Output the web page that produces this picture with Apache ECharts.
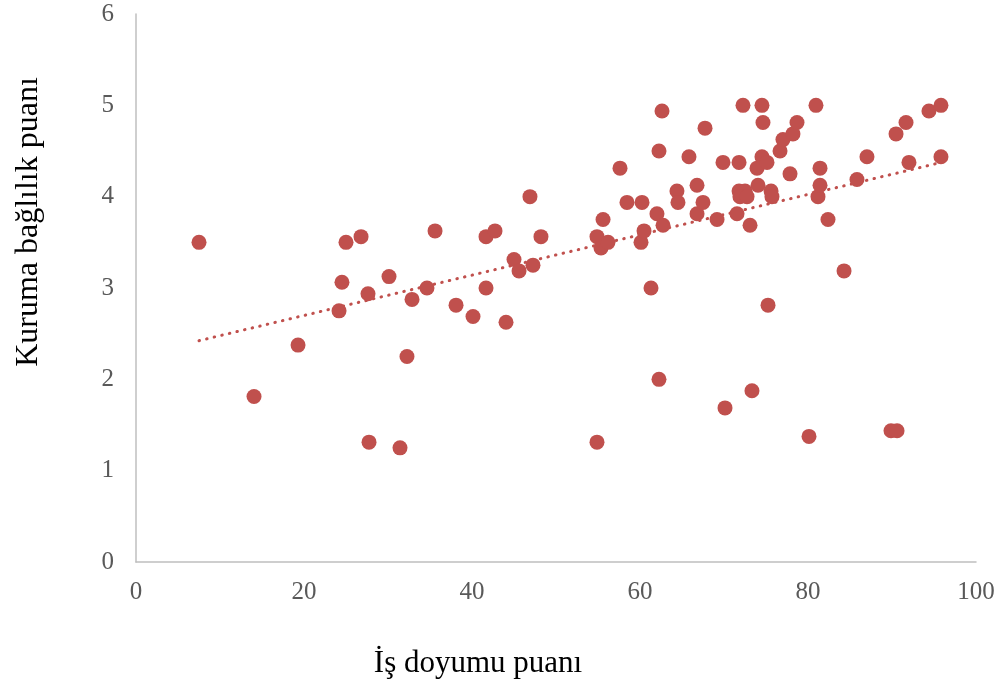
<!DOCTYPE html>
<html>
<head>
<meta charset="utf-8">
<script src="https://cdn.jsdelivr.net/npm/echarts@6/dist/echarts.min.js"></script>
<style>
  html, body { margin: 0; padding: 0; background: #ffffff; }
  #chart { width: 999px; height: 691px; }
</style>
</head>
<body>
<div id="chart"></div>
<script>
// Job satisfaction score (x) vs. organisational commitment score (y)
const jobSatisfaction = [
  7.50, 14.05, 19.29, 24.17, 24.52, 25.00, 26.79, 27.62, 27.74, 30.12,
  31.43, 32.26, 32.86, 34.64, 35.60, 38.10, 40.12, 41.67, 41.67, 42.74,
  44.05, 45.00, 45.60, 46.90, 47.26, 48.21, 54.88, 54.88, 55.36, 55.60,
  56.19, 57.62, 58.45, 60.12, 60.24, 60.48, 61.31, 62.02, 62.26, 62.26,
  62.62, 62.74, 64.40, 64.52, 65.83, 66.79, 66.79, 67.50, 67.74, 69.17,
  69.88, 70.12, 71.55, 71.79, 71.79, 72.50, 71.90, 72.74, 72.26, 73.10,
  73.33, 73.93, 74.05, 74.52, 74.52, 74.64, 75.12, 75.24, 75.60, 75.71,
  76.67, 77.02, 77.86, 78.21, 78.69, 80.12, 80.95, 81.19, 81.43, 81.43,
  82.38, 84.29, 85.83, 87.02, 89.88, 90.48, 90.60, 91.67, 92.02, 94.40,
  95.83, 95.83
];
const commitment = [
  3.5, 1.8125, 2.375, 2.75, 3.0625, 3.5, 3.5625, 2.9375, 1.3125, 3.125,
  1.25, 2.25, 2.875, 3.0, 3.625, 2.8125, 2.6875, 3.5625, 3.0, 3.625,
  2.625, 3.3125, 3.1875, 4.0, 3.25, 3.5625, 1.3125, 3.5625, 3.4375, 3.75,
  3.5, 4.3125, 3.9375, 3.5, 3.9375, 3.625, 3.0, 3.8125, 4.5, 2.0,
  4.9375, 3.6875, 4.0625, 3.9375, 4.4375, 4.125, 3.8125, 3.9375, 4.75, 3.75,
  4.375, 1.6875, 3.8125, 4.375, 4.0625, 4.0625, 4.0, 4.0, 5.0, 3.6875,
  1.875, 4.3125, 4.125, 5.0, 4.4375, 4.8125, 4.375, 2.8125, 4.0625, 4.0,
  4.5, 4.625, 4.25, 4.6875, 4.8125, 1.375, 5.0, 4.0, 4.125, 4.3125,
  3.75, 3.1875, 4.1875, 4.4375, 1.4375, 4.6875, 1.4375, 4.8125, 4.375, 4.9375,
  5.0, 4.4375
];
const xTicks = [0, 20, 40, 60, 80, 100];
const yTicks = [0, 1, 2, 3, 4, 5, 6];
const xTitle = 'İş doyumu puanı';
const yTitle = 'Kuruma bağlılık puanı';

const points = jobSatisfaction.map((x, i) => [x, commitment[i]]);

// Ordinary least-squares linear trend across the observed x range
function linearTrend(xs, ys) {
  const n = xs.length;
  const mx = xs.reduce((a, b) => a + b, 0) / n;
  const my = ys.reduce((a, b) => a + b, 0) / n;
  let sxy = 0, sxx = 0;
  for (let i = 0; i < n; i++) {
    sxy += (xs[i] - mx) * (ys[i] - my);
    sxx += (xs[i] - mx) * (xs[i] - mx);
  }
  const slope = sxy / sxx;
  const icpt = my - slope * mx;
  const x0 = Math.min(...xs), x1 = Math.max(...xs);
  return [[x0, icpt + slope * x0], [x1, icpt + slope * x1]];
}
const trend = linearTrend(jobSatisfaction, commitment);

const red = '#C0504D';
const serif = '"Liberation Serif", "Times New Roman", serif';
const chart = echarts.init(document.getElementById('chart'), null, { renderer: 'canvas' });

chart.setOption({
  backgroundColor: '#ffffff',
  animation: false,
  grid: { left: 136, right: 23, top: 14, bottom: 129, containLabel: false },
  xAxis: {
    type: 'value',
    min: xTicks[0], max: xTicks[xTicks.length - 1], interval: 20,
    axisLine: { show: true, lineStyle: { color: '#BFBFBF', width: 1.5 } },
    axisTick: { show: false },
    splitLine: { show: false },
    axisLabel: { color: '#595959', fontFamily: serif, fontSize: 25, margin: 18 }
  },
  yAxis: {
    type: 'value',
    min: yTicks[0], max: yTicks[yTicks.length - 1], interval: 1,
    axisLine: { show: true, lineStyle: { color: '#BFBFBF', width: 1.5 } },
    axisTick: { show: false },
    splitLine: { show: false },
    axisLabel: { color: '#595959', fontFamily: serif, fontSize: 25, margin: 22 }
  },
  graphic: [
    {
      type: 'text', x: 478, y: 664,
      style: { text: xTitle, font: '31px ' + serif, fill: '#000000', textAlign: 'center', textVerticalAlign: 'middle' }
    },
    {
      type: 'text', x: 29, y: 222, rotation: Math.PI / 2,
      style: { text: yTitle, font: '32px ' + serif, fill: '#000000', textAlign: 'center', textVerticalAlign: 'middle' }
    }
  ],
  series: [
    {
      type: 'line',
      data: trend,
      showSymbol: false,
      symbol: 'none',
      silent: true,
      z: 1,
      lineStyle: { color: red, width: 3, type: [0.5, 7.3], cap: 'round' }
    },
    {
      type: 'scatter',
      data: points,
      symbol: 'circle',
      symbolSize: 15,
      z: 2,
      itemStyle: { color: red, opacity: 1 }
    }
  ]
});
</script>
</body>
</html>
